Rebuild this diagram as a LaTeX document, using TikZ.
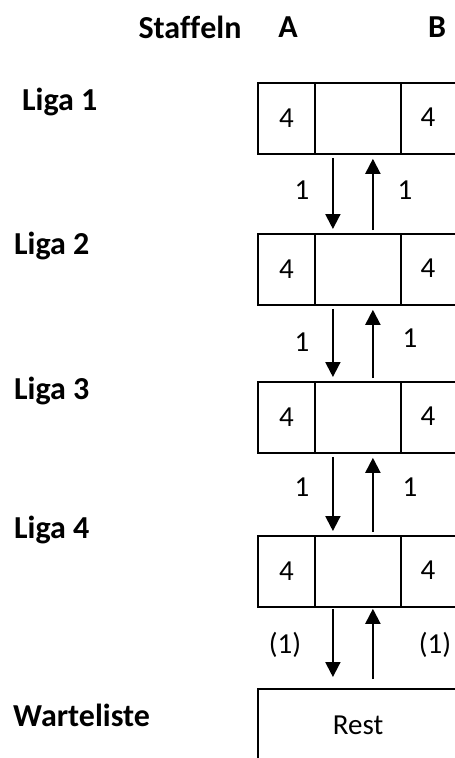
\documentclass[tikz,border=0pt]{standalone}
\usepackage{fontspec}
\setmainfont{Carlito}[Ligatures=CommonOff]
\usetikzlibrary{arrows.meta}
\tikzset{
  cell/.style={draw, line width=1.8pt, minimum height=71pt, inner sep=0pt, anchor=north west, font=\fontsize{29}{31}\selectfont},
  lbl/.style={font=\fontsize{29}{31}\selectfont, inner sep=0pt},
  head/.style={font=\bfseries\fontsize{32}{34}\selectfont, inner sep=0pt},
  arr/.style={line width=2pt, -{Triangle[width=15pt,length=15pt]}},
}
\begin{document}
\begin{tikzpicture}[x=1pt,y=-1pt]
\clip (0,0) rectangle (455,758);
\fill[white] (0,0) rectangle (455,758);
% headers
\node[head] (hs) at (190,27) {Staf\kern0pt f\kern0pt eln};
\node[head] (ha) at (288,27) {A};
\node[head] (hb) at (437,27) {B};
% league labels
\node[head, anchor=west] (l1) at (22,102) {Liga 1};
\node[head, anchor=west] (l2) at (14,246) {Liga 2};
\node[head, anchor=west] (l3) at (14,391) {Liga 3};
\node[head, anchor=west] (l4) at (14,530) {Liga 4};
\node[head, anchor=west] (lw) at (13,715) {Warteliste};
% boxes
\foreach \i/\y in {1/82,2/233,3/381,4/535}{
  \node[cell, minimum width=57pt] (a\i) at (257,\y) {4};
  \node[cell, minimum width=86pt] (m\i) at (314,\y) {};
  \node[cell, minimum width=86pt] (b\i) at (400,\y) {};
  \node[lbl] (bt\i) at (428,\y+35) {4};
}
\node[cell, minimum width=240pt, minimum height=120pt, anchor=north west] (rest) at (257,688) {};
\node[lbl] (rt) at (358,725) {Rest};
\coordinate (r4) at (m4.south |- rest.north);
% arrows
\foreach \i/\j in {1/2,2/3,3/4}{
  \draw[arr] ([xshift=-25pt,yshift=-3pt]m\i.south) -- ([xshift=-25pt,yshift=4pt]m\j.north);
  \draw[arr] ([xshift=15pt,yshift=3pt]m\j.north) -- ([xshift=15pt,yshift=-4pt]m\i.south);
}
\draw[arr] ([xshift=-25pt,yshift=-1pt]m4.south) -- ([xshift=-25pt,yshift=11pt]r4);
\draw[arr] ([xshift=15pt,yshift=9pt]r4) -- ([xshift=15pt,yshift=-1pt]m4.south);
% flow labels
\node[lbl] (n1l) at (302,190) {1};
\node[lbl] (n1r) at (405,190) {1};
\node[lbl] (n2l) at (302,342) {1};
\node[lbl] (n2r) at (410,338) {1};
\node[lbl] (n3l) at (302,487) {1};
\node[lbl] (n3r) at (410,487) {1};
\node[lbl] (n4l) at (285,645) {(1)};
\node[lbl] (n4r) at (435,645) {(1)};
\end{tikzpicture}
\end{document}
